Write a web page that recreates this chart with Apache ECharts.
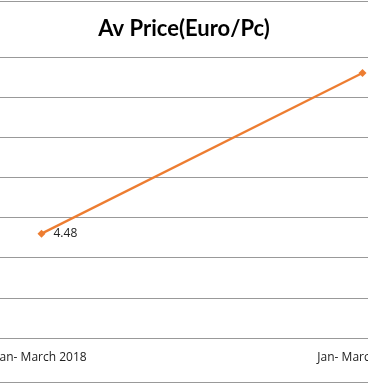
<!DOCTYPE html>
<html><head><meta charset="utf-8">
<script src="https://cdn.jsdelivr.net/npm/echarts@6/dist/echarts.min.js"></script>
<style>html,body{margin:0;padding:0;background:#fff}#c{width:368px;height:384px}</style>
</head><body><div id="c"></div>
<script>
const categories = ['Jan- March 2018', 'Jan- March 2019'];
const avPrice = [4.48, 5.68];
const dataLabels = ['4.48', ''];
const gridTicks = [0, 1, 2, 3, 4, 5, 6, 7];

const chart = echarts.init(document.getElementById('c'));
chart.setOption({
  animation: false,
  backgroundColor: '#fff',
  title: {
    text: 'Av Price(Euro/Pc)',
    left: 'center',
    top: 13,
    textStyle: { fontFamily: 'Lato', fontWeight: 'bold', fontSize: 22, color: '#000' }
  },
  graphic: [
    { type: 'line', shape: { x1: 0, y1: 1.5, x2: 368, y2: 1.5 }, style: { stroke: '#999', lineWidth: 1 } },
    { type: 'line', shape: { x1: 0, y1: 382.5, x2: 368, y2: 382.5 }, style: { stroke: '#999', lineWidth: 1 } }
  ],
  grid: { left: -119, right: -155, top: 57, bottom: 46, outerBoundsMode: 'none', containLabel: false },
  xAxis: {
    type: 'category',
    data: categories,
    boundaryGap: true,
    axisLine: { show: true, lineStyle: { color: '#999', width: 1 } },
    axisTick: { show: false },
    axisLabel: { fontFamily: 'Open Sans', fontSize: 12, color: '#222', margin: 14 }
  },
  yAxis: [
    {
      type: 'value', min: 3.7, max: 5.8,
      axisLabel: { show: false }, axisLine: { show: false }, axisTick: { show: false },
      splitLine: { show: false }
    },
    {
      type: 'value', min: gridTicks[0], max: gridTicks[gridTicks.length - 1], interval: 1,
      axisLabel: { show: false }, axisLine: { show: false }, axisTick: { show: false },
      splitLine: { show: true, lineStyle: { color: '#999', width: 1 } }
    }
  ],
  series: [{
    type: 'line',
    yAxisIndex: 0,
    data: avPrice,
    symbol: 'diamond',
    symbolSize: 8,
    lineStyle: { color: '#ED7D31', width: 2.25 },
    itemStyle: { color: '#ED7D31' },
    label: {
      show: true, position: 'right', distance: 8,
      fontFamily: 'Open Sans', fontSize: 12, color: '#222',
      formatter: p => dataLabels[p.dataIndex]
    }
  }]
});
</script></body></html>
